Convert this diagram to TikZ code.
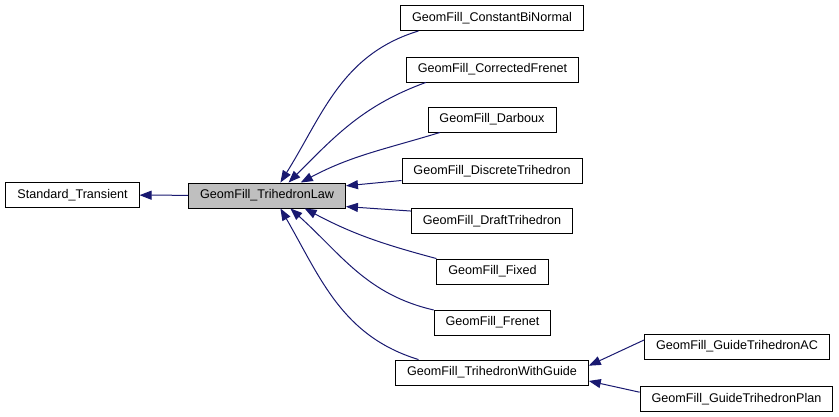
\documentclass[tikz,border=0pt]{standalone}
\usepackage{fontspec}
\setmainfont{Liberation Sans}
\usetikzlibrary{arrows.meta}
\definecolor{edgeblue}{RGB}{25,25,112}
\tikzstyle{cls}=[draw=black,line width=.9pt,minimum height=25pt,inner xsep=11.5pt,inner ysep=0pt,font=\fontsize{12.6}{15}\selectfont]
\tikzstyle{line}=[draw=edgeblue,line width=1pt]
\tikzstyle{arrow}=[->,line]
\tikzset{>={Triangle[length=12pt,width=9pt]}}

\begin{document}
\begin{tikzpicture}[x=1pt,y=1pt]

    \useasboundingbox (0,0) rectangle (839,417);

    \node[cls] (transient) at (72.5,222) {Standard\_Transient};
    \node[cls,fill=gray!50] (law) at (267,221.5) {GeomFill\_TrihedronLaw};
    \node[cls] (binormal) at (492,399) {GeomFill\_ConstantBiNormal};
    \node[cls] (corrected) at (492.5,347.5) {GeomFill\_CorrectedFrenet};
    \node[cls] (darboux) at (492,297.5) {GeomFill\_Darboux};
    \node[cls] (discrete) at (492,246) {GeomFill\_DiscreteTrihedron};
    \node[cls] (draft) at (492,196) {GeomFill\_DraftTrihedron};
    \node[cls] (fixed) at (492.5,145.5) {GeomFill\_Fixed};
    \node[cls] (frenet) at (492.5,94.5) {GeomFill\_Frenet};
    \node[cls] (withguide) at (492,44.5) {GeomFill\_TrihedronWithGuide};
    \node[cls] (guideac) at (737,70.5) {GeomFill\_GuideTrihedronAC};
    \node[cls] (guideplan) at (736.5,18) {GeomFill\_GuideTrihedronPlan};

    \draw[arrow] (law) -- (transient) ;
    \draw[arrow] (binormal.190) to[out=197,in=58] (law.44) ;
    \draw[arrow] (corrected.191) to[out=200,in=45] (law.31) ;
    \draw[arrow] (darboux.194) to[out=197,in=28] (law.21) ;
    \draw[arrow] (discrete.186) -- (law.7) ;
    \draw[arrow] (draft.173) -- (law.-8) ;
    \draw[arrow] (fixed.167) to[out=165,in=-28] (law.-19) ;
    \draw[arrow] (frenet.168) to[out=167,in=-42] (law.-29) ;
    \draw[arrow] (withguide.170) to[out=163,in=-60] (law.-44) ;
    \draw[arrow] (guideac.176) -- (withguide.4) ;
    \draw[arrow] (guideplan.176) -- (withguide.-5.5) ;
  \end{tikzpicture}
\end{document}
